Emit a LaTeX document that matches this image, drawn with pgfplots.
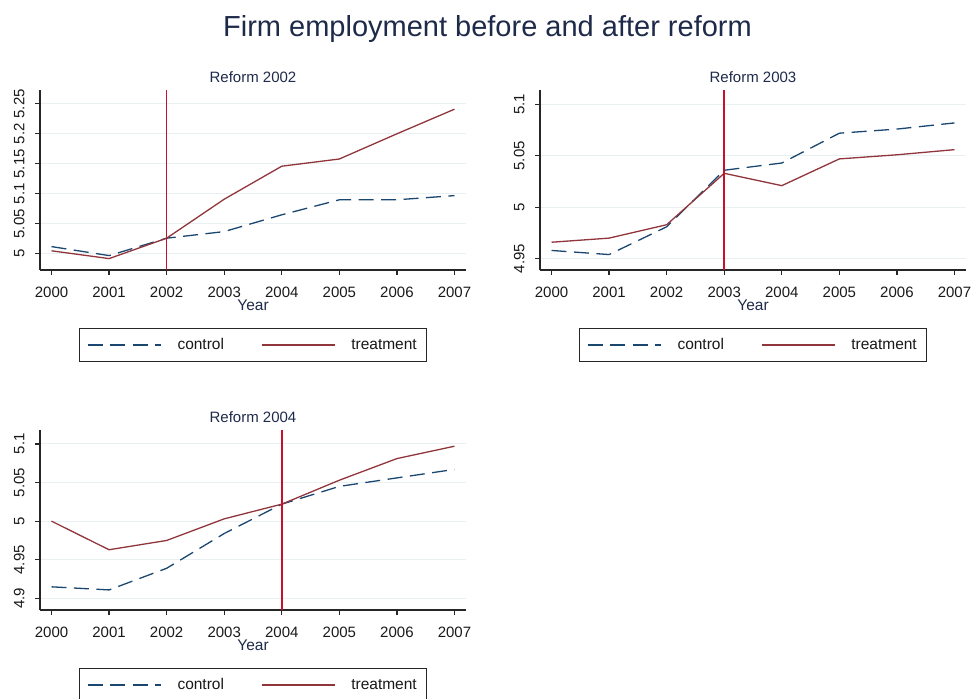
\documentclass[border=0pt]{standalone}
\usepackage{fontspec}
\setmainfont{Liberation Sans}
\usepackage{pgfplots}
\pgfplotsset{compat=1.18}

\definecolor{ctrl}{HTML}{1A476F}
\definecolor{treat}{HTML}{90353B}
\definecolor{reformline}{HTML}{C8102E}
\definecolor{gridc}{HTML}{E8F0F2}
\definecolor{titlec}{HTML}{1E2A4A}

\tikzset{
  ctrlline/.style={color=ctrl, draw=ctrl, line width=1.3pt, dash pattern=on 15pt off 7.5pt},
  treatline/.style={color=treat, draw=treat, line width=1.3pt},
  refline/.style={color=reformline, draw=reformline, line width=1.5pt, solid},
}

\pgfplotsset{
  stata/.style={
    scale only axis, width=426pt, height=180pt,
    xmin=1999.8, xmax=2007.2,
    axis x line*=bottom, axis y line*=left,
    axis line style={line width=1.4pt, black!85, -},
    tick align=outside, major tick length=5pt,
    tick style={line width=1.2pt, black!85},
    xtick={2000,2001,2002,2003,2004,2005,2006,2007},
    /pgf/number format/1000 sep={},
    /pgf/number format/assume math mode=true,
    ymajorgrids, grid style={gridc, line width=1pt},
    ticklabel style={font=\fontsize{15}{15}\selectfont, black!90},
    xticklabel style={yshift=-8pt},
    yticklabel style={xshift=-7pt, rotate=90, anchor=south},
    xlabel={Year},
    xlabel style={at={(0.5,0)}, anchor=base, yshift=-41pt, font=\fontsize{15.5}{15.5}\selectfont, titlec},
    title style={at={(0.5,1)}, anchor=base, yshift=1pt, font=\fontsize{15}{15}\selectfont, titlec},
    legend columns=2,
    legend cell align=left,
    legend style={at={(0.5,-0.322)}, anchor=north, draw=black!85, line width=1.3pt,
      inner xsep=8pt, inner ysep=8pt, font=\fontsize{15.5}{15.5}\selectfont,
      text=black!90,
      /tikz/every odd column/.append style={column sep=14pt},
      /tikz/every even column/.append style={column sep=35pt}},
    legend image code/.code={\draw[#1] (0pt,0pt) -- (73pt,0pt);},
  },
}

\begin{document}
\begin{tikzpicture}[x=1pt,y=1pt]

\node[font=\fontsize{29}{29}\selectfont, text=titlec] at (487.5,670) {Firm employment before and after reform};

% Reform 2002
\begin{axis}[stata, at={(40pt,429pt)}, anchor=south west,
  title={Reform 2002},
  ymin=4.973, ymax=5.273,
  ytick={5,5.05,5.1,5.15,5.2,5.25},
  yticklabels={5,5.05,5.1,5.15,5.2,5.25}]
\addplot[ctrlline] coordinates {(2000,5.012) (2001,4.997) (2002,5.026) (2003,5.037) (2004,5.065) (2005,5.090) (2006,5.090) (2007,5.097)};
\addlegendentry{control}
\addplot[treatline] coordinates {(2000,5.005) (2001,4.992) (2002,5.026) (2003,5.091) (2004,5.146) (2005,5.158) (2006,5.200) (2007,5.241)};
\addlegendentry{treatment}
\addplot[refline, forget plot] coordinates {(2002,4.973) (2002,5.273)};
\end{axis}

% Reform 2003
\begin{axis}[stata, at={(540pt,429pt)}, anchor=south west,
  title={Reform 2003},
  ymin=4.939, ymax=5.114,
  ytick={4.95,5,5.05,5.1},
  yticklabels={4.95,5,5.05,5.1}]
\addplot[ctrlline] coordinates {(2000,4.958) (2001,4.954) (2002,4.981) (2003,5.036) (2004,5.043) (2005,5.072) (2006,5.076) (2007,5.082)};
\addlegendentry{control}
\addplot[treatline] coordinates {(2000,4.966) (2001,4.970) (2002,4.983) (2003,5.033) (2004,5.021) (2005,5.047) (2006,5.051) (2007,5.056)};
\addlegendentry{treatment}
\addplot[refline, forget plot] coordinates {(2003,4.939) (2003,5.114)};
\end{axis}

% Reform 2004
\begin{axis}[stata, at={(40pt,89pt)}, anchor=south west,
  title={Reform 2004},
  ymin=4.885, ymax=5.118,
  ytick={4.9,4.95,5,5.05,5.1},
  yticklabels={4.9,4.95,5,5.05,5.1}]
\addplot[ctrlline] coordinates {(2000,4.915) (2001,4.911) (2002,4.939) (2003,4.984) (2004,5.022) (2005,5.045) (2006,5.056) (2007,5.067)};
\addlegendentry{control}
\addplot[treatline] coordinates {(2000,5.000) (2001,4.963) (2002,4.975) (2003,5.003) (2004,5.022) (2005,5.053) (2006,5.081) (2007,5.097)};
\addlegendentry{treatment}
\addplot[refline, forget plot] coordinates {(2004,4.885) (2004,5.118)};
\end{axis}

\pgfresetboundingbox
\useasboundingbox (0,0) rectangle (975,699);
\end{tikzpicture}
\end{document}
